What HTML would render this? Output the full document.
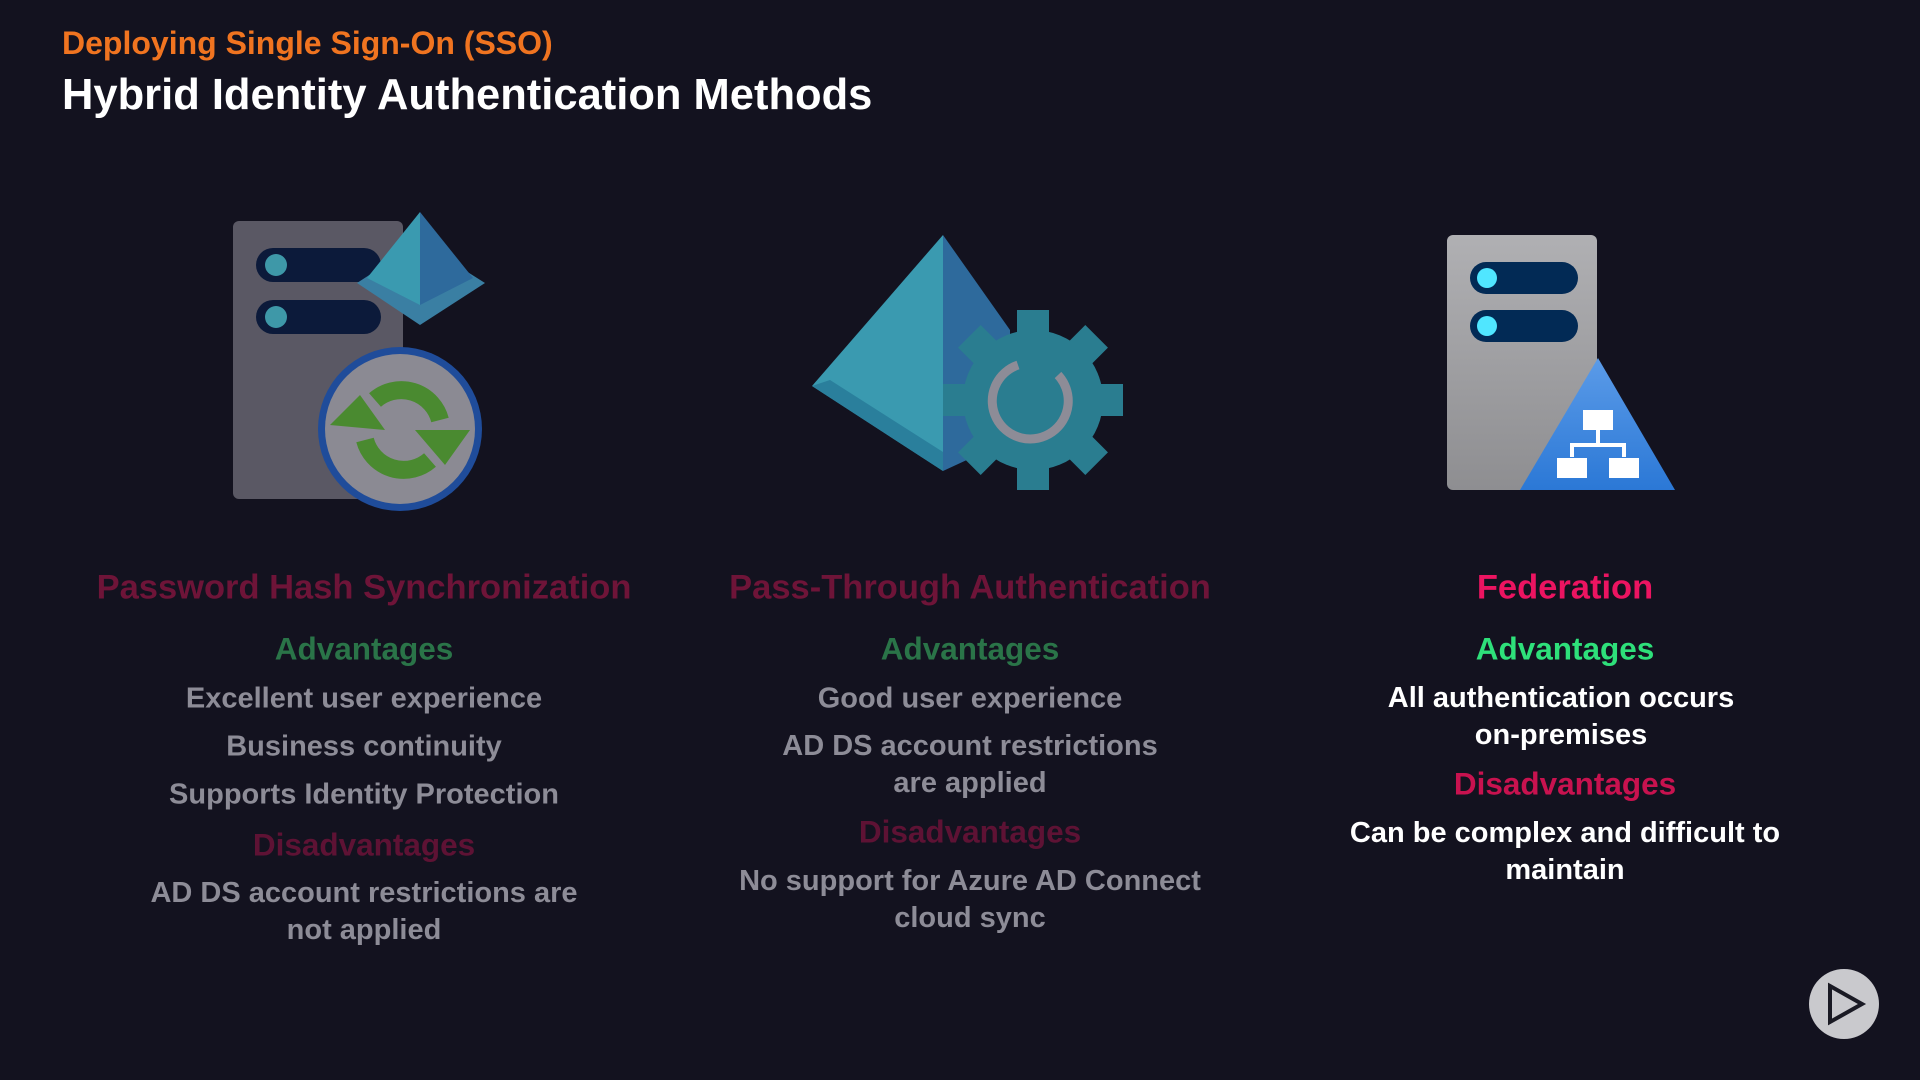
<!DOCTYPE html>
<html><head><meta charset="utf-8"><style>
body{margin:0;width:1920px;height:1080px;background:#13121f;overflow:hidden;font-family:"Liberation Sans",sans-serif;position:relative}
.t{position:absolute;white-space:nowrap;transform:translate(-50%,-50%);text-align:center}
.h{font-weight:bold;font-size:34.5px}
.a{font-weight:bold;font-size:31.5px}
.b{font-size:29px;line-height:37px;font-weight:bold}
.dim .h{color:#6e1438}
.dim .a{color:#2a7448}
.dim .a.d{color:#5e1234}
.dim .b{color:#8d8c97}
.br .h{color:#ec1461}
.br .a{color:#2ee07a}
.br .a.d{color:#c8124f}
.br .b{color:#fff}
</style></head><body>
<div style="position:absolute;left:62px;top:25px;color:#f07420;font-weight:bold;font-size:32px">Deploying Single Sign-On (SSO)</div>
<div style="position:absolute;left:62px;top:71px;color:#fff;font-weight:bold;font-size:43.5px">Hybrid Identity Authentication Methods</div>

<svg width="1920" height="1080" style="position:absolute;left:0;top:0">
<rect x="233" y="221" width="170" height="278" rx="6" fill="#5a5864"/>
<rect x="256" y="248" width="125" height="34" rx="17" fill="#0c1a3a"/>
<rect x="256" y="300" width="125" height="34" rx="17" fill="#0c1a3a"/>
<circle cx="276" cy="265" r="11" fill="#3e98a8"/><circle cx="276" cy="317" r="11" fill="#3e98a8"/>
<polygon points="357,283 420,242 485,283 420,325" fill="#3a7fa3"/>
<polygon points="420,212 367,278 420,305" fill="#3a9ab0"/>
<polygon points="420,212 473,278 420,305" fill="#2e6a9c"/>
<circle cx="400" cy="429" r="82" fill="#1f4c9a"/>
<circle cx="400" cy="429" r="75" fill="#8b8a93"/>
<path d="M365 440 A40 40 0 0 0 430 460" stroke="#4a8a30" stroke-width="18" fill="none"/>
<path d="M375 400 A40 40 0 0 1 440 420" stroke="#4a8a30" stroke-width="18" fill="none"/>
<polygon points="330,425 360,395 385,430" fill="#4a8a30"/>
<polygon points="415,430 470,430 445,465" fill="#4a8a30"/>
<polygon points="943,235 812,386 943,471" fill="#3a9ab0"/>
<polygon points="943,235 1010,330 1010,440 943,471" fill="#2e6a9c"/>
<polygon points="812,386 943,471 943,452 830,380" fill="#2a7f9c"/>
<g transform="translate(1033,400)" fill="#2a7d90">
<circle r="70"/>
<g id="tt"><rect x="-16" y="-90" width="32" height="30"/></g>
<use href="#tt" transform="rotate(45)"/><use href="#tt" transform="rotate(90)"/><use href="#tt" transform="rotate(135)"/><use href="#tt" transform="rotate(180)"/><use href="#tt" transform="rotate(225)"/><use href="#tt" transform="rotate(270)"/><use href="#tt" transform="rotate(315)"/>
<path d="M-15 -35 A38 38 0 1 0 25 -25" stroke="#8d8c97" stroke-width="9" fill="none"/>
</g>
<defs><linearGradient id="g" x1="0" y1="0" x2="0" y2="1"><stop offset="0" stop-color="#b0b0b3"/><stop offset="1" stop-color="#8e8e91"/></linearGradient>
<linearGradient id="g2" x1="0" y1="0" x2="0" y2="1"><stop offset="0" stop-color="#5b9be8"/><stop offset="1" stop-color="#2b78d6"/></linearGradient></defs>
<rect x="1447" y="235" width="150" height="255" rx="6" fill="url(#g)"/>
<rect x="1470" y="262" width="108" height="32" rx="16" fill="#022a55"/>
<rect x="1470" y="310" width="108" height="32" rx="16" fill="#022a55"/>
<circle cx="1487" cy="278" r="10" fill="#50e6ff"/><circle cx="1487" cy="326" r="10" fill="#50e6ff"/>
<polygon points="1598,358 1675,490 1520,490" fill="url(#g2)"/>
<rect x="1583" y="410" width="30" height="20" fill="#fff"/>
<rect x="1596" y="430" width="4" height="14" fill="#fff"/>
<rect x="1570" y="443" width="56" height="4" fill="#fff"/>
<rect x="1570" y="443" width="4" height="14" fill="#fff"/><rect x="1622" y="443" width="4" height="14" fill="#fff"/>
<rect x="1557" y="458" width="30" height="20" fill="#fff"/><rect x="1609" y="458" width="30" height="20" fill="#fff"/>
<circle cx="1844" cy="1004" r="35" fill="#c9c9cd"/>
<polygon points="1830,986 1862,1004 1830,1022" fill="none" stroke="#1a1a24" stroke-width="4"/>
</svg>

<div class="dim">
<div class="t h" style="left:364px;top:588px">Password Hash Synchronization</div>
<div class="t a" style="left:364px;top:649px">Advantages</div>
<div class="t b" style="left:364px;top:699px">Excellent user experience</div>
<div class="t b" style="left:364px;top:747px">Business continuity</div>
<div class="t b" style="left:364px;top:795px">Supports Identity Protection</div>
<div class="t a d" style="left:364px;top:845px">Disadvantages</div>
<div class="t b" style="left:364px;top:912px">AD DS account restrictions are<br>not applied</div>

<div class="t h" style="left:970px;top:588px">Pass-Through Authentication</div>
<div class="t a" style="left:970px;top:649px">Advantages</div>
<div class="t b" style="left:970px;top:699px">Good user experience</div>
<div class="t b" style="left:970px;top:765px">AD DS account restrictions<br>are applied</div>
<div class="t a d" style="left:970px;top:832px">Disadvantages</div>
<div class="t b" style="left:970px;top:900px">No support for Azure AD Connect<br>cloud sync</div>
</div>
<div class="br">
<div class="t h" style="left:1565px;top:588px">Federation</div>
<div class="t a" style="left:1565px;top:649px">Advantages</div>
<div class="t b" style="left:1561px;top:717px">All authentication occurs<br>on-premises</div>
<div class="t a d" style="left:1565px;top:784px">Disadvantages</div>
<div class="t b" style="left:1565px;top:852px">Can be complex and difficult to<br>maintain</div>
</div>
</body></html>
